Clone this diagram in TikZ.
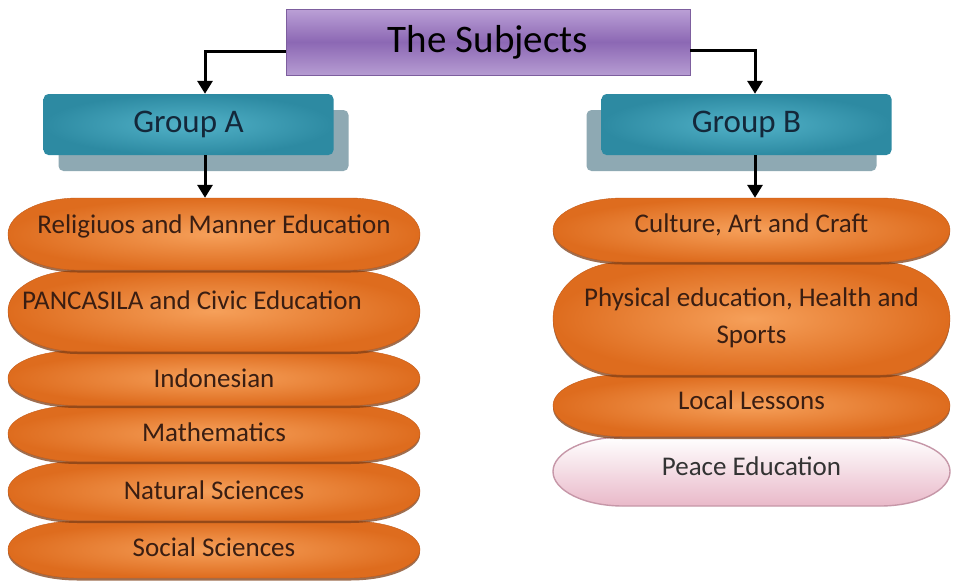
\documentclass[tikz,border=0pt]{standalone}
\usepackage{fontspec}
\setmainfont{Carlito}
\usetikzlibrary{arrows.meta,shapes.geometric}
\definecolor{purTop}{HTML}{BBA0D6}
\definecolor{purMid}{HTML}{8C68B4}
\definecolor{purBot}{HTML}{B69CD2}
\definecolor{purEdge}{HTML}{7D5E9E}
\definecolor{tealIn}{HTML}{52B2C8}
\definecolor{tealOut}{HTML}{2D8AA2}
\definecolor{tealShade}{HTML}{8EA9B3}
\definecolor{orgIn}{HTML}{F6A05A}
\definecolor{orgOut}{HTML}{DE6C1E}
\definecolor{orgEdge}{HTML}{C45C1A}
\definecolor{orgShadow}{HTML}{7E3E16}
\definecolor{txtOrg}{HTML}{3A1E12}
\definecolor{txtGrp}{HTML}{14283A}
\definecolor{pinkTop}{HTML}{FFFFFF}
\definecolor{pinkBot}{HTML}{E9B9C9}
\definecolor{pinkEdge}{HTML}{C697A8}
% #1 name, #2 shape style, #3 cx, #4 cy, #5 half width, #6 half height, #7 label options, #8 text
\newcommand{\pillitem}[8]{%
  \path[#2shadow, yshift=-2.5pt] ({#3-#5+70},{#4-#6}) -- ({#3+#5-70},{#4-#6})
     arc[start angle=90,end angle=-90,x radius=70pt,y radius=#6pt]
     -- ({#3-#5+70},{#4+#6})
     arc[start angle=270,end angle=90,x radius=70pt,y radius=#6pt] -- cycle;
  \path[#2] ({#3-#5+70},{#4-#6}) -- ({#3+#5-70},{#4-#6})
     arc[start angle=90,end angle=-90,x radius=70pt,y radius=#6pt]
     -- ({#3-#5+70},{#4+#6})
     arc[start angle=270,end angle=90,x radius=70pt,y radius=#6pt] -- cycle;
  \node[rectangle, inner sep=0pt, minimum width={2*#5 pt}, minimum height={2*#6 pt},
        label={[lbl,#7]center:#8}] (#1) at (#3,#4) {};
}
\begin{document}
\begin{tikzpicture}[x=1pt,y=-1pt,
  subjbox/.style={rectangle, draw=purEdge, line width=0.8pt, top color=purTop, bottom color=purBot, middle color=purMid, minimum width=404pt, minimum height=66pt, inner sep=0pt, text=black, font=\fontsize{39}{44}\selectfont},
  grpbox/.style={rectangle, rounded corners=5pt, inner color=tealIn, outer color=tealOut, minimum width=290pt, minimum height=61pt, inner sep=0pt, text=txtGrp, font=\fontsize{33}{38}\selectfont},
  grpshade/.style={rectangle, rounded corners=5pt, fill=tealShade, minimum width=290pt, minimum height=61pt, inner sep=0pt},
  orb/.style={inner color=orgIn, outer color=orgOut, draw=orgEdge, line width=0.4pt},
  orbshadow/.style={fill=orgShadow, fill opacity=0.75},
  peace/.style={top color=pinkTop, bottom color=pinkBot, draw=pinkEdge, line width=1.4pt},
  peaceshadow/.style={},
  lbl/.style={text=txtOrg, font=\fontsize{27}{31}\selectfont, inner sep=0pt},
  arr/.style={draw=black, line width=3pt, -{Triangle[width=15pt,length=13pt]}}
]
\path[use as bounding box, fill=white] (0,0) rectangle (953,582);

% title
\node[subjbox] (subj) at (488,42) {The Subjects};

% group shadows and groups
\node[grpshade] (gas) at (203.5,140.5) {};
\node[grpshade] (gbs) at (731.5,140.5) {};
\node[grpbox] (ga) at (188.5,124.5) {Group A};
\node[grpbox] (gb) at (746.5,124.5) {Group B};

% left items (bottom first so upper items overlap)
\pillitem{l6}{orb}{214}{549.5}{206}{28.5}{yshift=2pt}{Social Sciences}
\pillitem{l5}{orb}{214}{491}{206}{29.5}{yshift=1pt}{Natural Sciences}
\pillitem{l4}{orb}{214}{433.5}{206}{28}{yshift=1pt}{Mathematics}
\pillitem{l3}{orb}{214}{378}{206}{27.5}{yshift=0pt}{Indonesian}
\pillitem{l2}{orb}{214}{311}{206}{40.5}{yshift=11pt,xshift=-22pt}{PANCASILA and Civic Education}
\pillitem{l1}{orb}{214}{234}{206}{36}{yshift=8pt}{Religiuos and Manner Education}

% right items
\pillitem{r4}{peace}{751.5}{471.5}{198.5}{34.5}{text=black!80,yshift=5.5pt}{Peace Education}
\pillitem{r3}{orb}{751.5}{405.5}{198.5}{31}{yshift=5pt}{Local Lessons}
\pillitem{r2}{orb}{751.5}{318.5}{198.5}{56.5}{align=center,font=\fontsize{27}{37}\selectfont,yshift=0.5pt}{Physical education, Health and\\Sports}
\pillitem{r1}{orb}{751.5}{230}{198.5}{32}{yshift=5pt}{Culture, Art and Craft}

% connectors
\draw[arr] ([yshift=-9pt]subj.west) -| ([xshift=16.5pt]ga.north);
\draw[arr] ([yshift=-8pt]subj.east) -| ([xshift=8.5pt]gb.north);
\draw[arr] ([xshift=16.5pt]ga.south) -- ([xshift=16.5pt]ga.south |- l1.north);
\draw[arr] ([xshift=8.5pt]gb.south) -- ([xshift=8.5pt]gb.south |- r1.north);
\end{tikzpicture}
\end{document}
